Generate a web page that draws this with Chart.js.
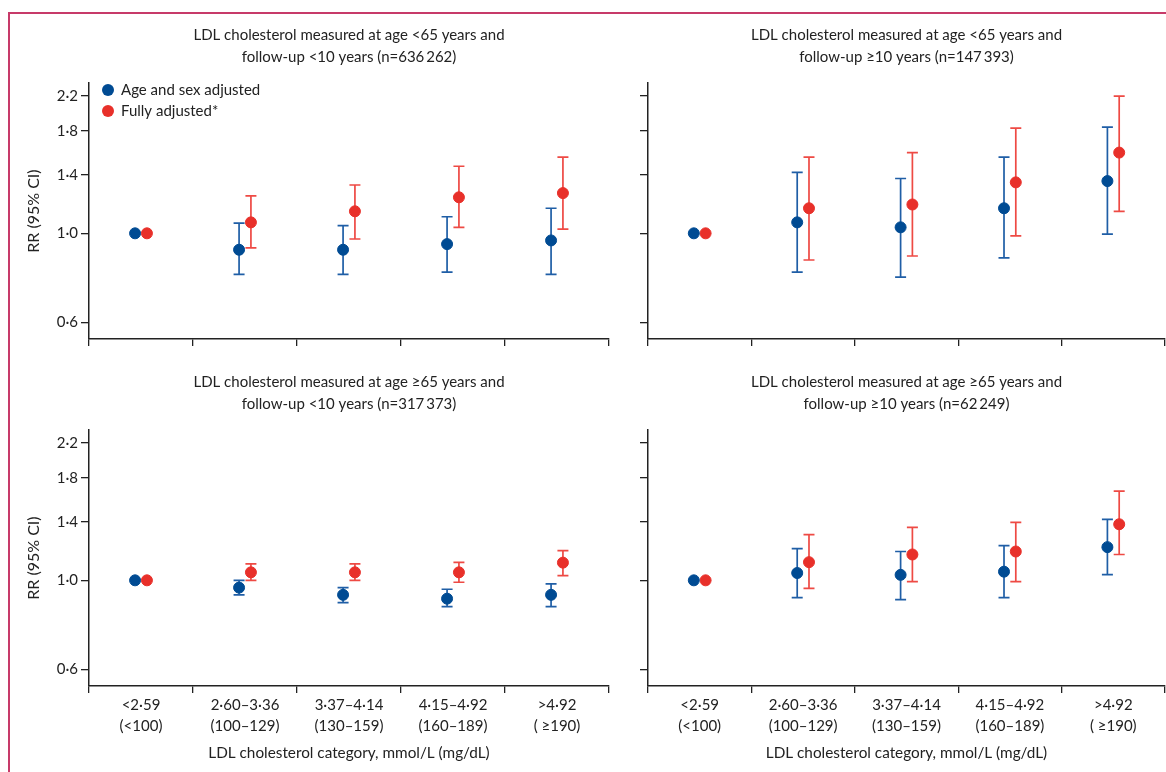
<!DOCTYPE html>
<html>
<head>
<meta charset="utf-8">
<script src="https://cdn.jsdelivr.net/npm/chart.js@4.4.1/dist/chart.umd.min.js"></script>
<style>
  body { margin: 0; width: 1166px; height: 772px; overflow: hidden; background: #fff; position: relative; }
  .frame { position: absolute; left: 8px; top: 12px; width: 1170px; height: 770px; border-left: 2px solid #c73a69; border-top: 2px solid #c73a69; }
  canvas { position: absolute; }
</style>
</head>
<body>
<div class="frame"></div>
<canvas id="tl" width="620" height="330" style="left:10px;top:24px"></canvas>
<canvas id="tr" width="545" height="330" style="left:628px;top:24px"></canvas>
<canvas id="bl" width="620" height="401" style="left:10px;top:371px"></canvas>
<canvas id="br" width="545" height="401" style="left:628px;top:371px"></canvas>
<script>
var categories = [['<2·59', '(<100)'], ['2·60–3·36', '(100–129)'], ['3·37–4·14', '(130–159)'], ['4·15–4·92', '(160–189)'], ['>4·92', '( ≥190)']];
var yTicks = [0.6, 1.0, 1.4, 1.8, 2.2];
var seriesNames = ['Age and sex adjusted', 'Fully adjusted*'];

// age <65, follow-up <10 years
var tlBase = [1.00, 0.91, 0.91, 0.94, 0.96];
var tlBaseLo = [null, 0.79, 0.79, 0.80, 0.79];
var tlBaseHi = [null, 1.06, 1.045, 1.10, 1.155];
var tlFull = [1.00, 1.065, 1.135, 1.23, 1.26];
var tlFullLo = [null, 0.92, 0.968, 1.035, 1.025];
var tlFullHi = [null, 1.24, 1.32, 1.47, 1.55];

// age <65, follow-up >=10 years
var trBase = [1.00, 1.065, 1.035, 1.155, 1.35];
var trBaseLo = [null, 0.80, 0.778, 0.868, 0.996];
var trBaseHi = [null, 1.42, 1.37, 1.55, 1.84];
var trFull = [1.00, 1.155, 1.18, 1.34, 1.59];
var trFullLo = [null, 0.858, 0.878, 0.985, 1.135];
var trFullHi = [null, 1.55, 1.59, 1.83, 2.20];

// age >=65, follow-up <10 years
var blBase = [1.00, 0.959, 0.92, 0.90, 0.92];
var blBaseLo = [null, 0.92, 0.88, 0.86, 0.86];
var blBaseHi = [null, 1.00, 0.959, 0.95, 0.98];
var blFull = [1.00, 1.047, 1.047, 1.047, 1.107];
var blFullLo = [null, 1.00, 1.00, 0.989, 1.027];
var blFullHi = [null, 1.099, 1.099, 1.109, 1.186];

// age >=65, follow-up >=10 years
var brBase = [1.00, 1.043, 1.032, 1.051, 1.21];
var brBaseLo = [null, 0.905, 0.895, 0.905, 1.033];
var brBaseHi = [null, 1.20, 1.18, 1.22, 1.42];
var brFull = [1.00, 1.11, 1.16, 1.18, 1.38];
var brFullLo = [null, 0.955, 0.993, 0.993, 1.16];
var brFullHi = [null, 1.30, 1.356, 1.395, 1.67];

Chart.defaults.font.family = "Lato, 'Open Sans', sans-serif";
Chart.defaults.font.size = 14;
Chart.defaults.color = '#222';

var blue = '#004b93', blueBar = '#1f5ea6';
var red = '#e8302a', redBar = '#ee4a44';
var shift = 0.057;

// whiskers drawn from each point's own pixel x and the y scale
var errorBars = {
    id: 'errorBars',
    beforeDatasetsDraw: function(chart) {
        var ctx = chart.ctx, y = chart.scales.y;
        chart.data.datasets.forEach(function(ds, di) {
            chart.getDatasetMeta(di).data.forEach(function(pt, i) {
                if (ds.lo[i] == null) return;
                var yl = y.getPixelForValue(ds.lo[i]);
                var yh = y.getPixelForValue(ds.hi[i]);
                ctx.save();
                ctx.strokeStyle = ds.barColor;
                ctx.lineWidth = 1.7;
                ctx.beginPath();
                ctx.moveTo(pt.x, yl); ctx.lineTo(pt.x, yh);
                ctx.moveTo(pt.x - 5.5, yl); ctx.lineTo(pt.x + 5.5, yl);
                ctx.moveTo(pt.x - 5.5, yh); ctx.lineTo(pt.x + 5.5, yh);
                ctx.stroke();
                ctx.restore();
            });
        });
    }
};

// legend sitting in the top-left corner of the plot area
var insideLegend = {
    id: 'insideLegend',
    afterDraw: function(chart, args, opts) {
        if (!opts.show) return;
        var ctx = chart.ctx, a = chart.chartArea;
        chart.data.datasets.forEach(function(ds, i) {
            var y = a.top + 7 + i * 21;
            ctx.save();
            ctx.fillStyle = ds.backgroundColor;
            ctx.beginPath();
            ctx.arc(a.left + 19, y, 6, 0, Math.PI * 2);
            ctx.fill();
            ctx.fillStyle = '#222';
            ctx.font = "15px Lato, 'Open Sans', sans-serif";
            ctx.textBaseline = 'middle';
            ctx.fillText(ds.label, a.left + 32, y);
            ctx.restore();
        });
    }
};

function pts(vals, dx) {
    return vals.map(function(v, i) { return {x: i + dx, y: v}; });
}

function makePanel(id, title, base, baseLo, baseHi, full, fullLo, fullHi, o) {
    var ctx = document.getElementById(id).getContext('2d');
    return new Chart(ctx, {
        type: 'scatter',
        data: {
            datasets: [{
                label: seriesNames[0],
                data: pts(base, -shift),
                lo: baseLo, hi: baseHi, barColor: blueBar,
                backgroundColor: blue, borderColor: blue,
                pointRadius: 5.5, pointHoverRadius: 5.5,
                xAxisID: 'xPos'
            }, {
                label: seriesNames[1],
                data: pts(full, shift),
                lo: fullLo, hi: fullHi, barColor: redBar,
                backgroundColor: red, borderColor: red,
                pointRadius: 5.5, pointHoverRadius: 5.5,
                xAxisID: 'xPos'
            }]
        },
        options: {
            responsive: false,
            animation: false,
            layout: { padding: { left: 0, right: o.padRight, top: 0, bottom: 0 } },
            plugins: {
                tooltip: { enabled: false },
                legend: { display: false },
                insideLegend: { show: !!o.legend },
                title: {
                    display: true,
                    text: title,
                    fullSize: false,
                    font: { size: 15, weight: 'normal', lineHeight: 1.47 },
                    color: '#222',
                    padding: { top: 0, bottom: 15 }
                }
            },
            scales: {
                xPos: {
                    type: 'linear',
                    display: false,
                    min: -0.5,
                    max: 4.5
                },
                x: {
                    type: 'category',
                    labels: categories,
                    offset: true,
                    position: 'bottom',
                    grid: { offset: true, drawOnChartArea: false, tickLength: 7, color: '#222', lineWidth: 1.3 },
                    border: { color: '#222', width: 1.5 },
                    ticks: { display: o.xLabels, padding: 2, maxRotation: 0, autoSkip: false, font: { size: 15, lineHeight: 1.4 } },
                    title: {
                        display: o.xLabels,
                        text: 'LDL cholesterol category, mmol/L (mg/dL)',
                        font: { size: 15.3 },
                        padding: { top: 4, bottom: 10 }
                    },
                    afterFit: function(scale) { scale.height = o.xHeight; }
                },
                y: {
                    type: 'logarithmic',
                    min: 0.545,
                    max: 2.37,
                    afterBuildTicks: function(scale) {
                        scale.ticks = yTicks.map(function(v) { return {value: v}; });
                    },
                    grid: { drawOnChartArea: false, tickLength: 8, color: '#222', lineWidth: 1.3 },
                    border: { color: '#222', width: 1.5 },
                    ticks: {
                        display: o.yLabels,
                        padding: 3,
                        font: { size: 15 },
                        callback: function(v) { return v.toFixed(1).replace('.', '·'); }
                    },
                    title: {
                        display: o.yLabels,
                        text: 'RR (95% CI)',
                        font: { size: 16 },
                        padding: { top: 14, bottom: 0 }
                    },
                    afterFit: function(scale) { scale.width = o.yWidth; }
                }
            }
        },
        plugins: [errorBars, insideLegend]
    });
}

makePanel('tl', ['LDL cholesterol measured at age <65 years and', 'follow-up <10 years (n=636\u2009262)'],
    tlBase, tlBaseLo, tlBaseHi, tlFull, tlFullLo, tlFullHi,
    { legend: true, xLabels: false, yLabels: true, xHeight: 15, yWidth: 79, padRight: 21 });
makePanel('tr', ['LDL cholesterol measured at age <65 years and', 'follow-up ≥10 years (n=147\u2009393)'],
    trBase, trBaseLo, trBaseHi, trFull, trFullLo, trFullHi,
    { legend: false, xLabels: false, yLabels: false, xHeight: 15, yWidth: 20, padRight: 8 });
makePanel('bl', ['LDL cholesterol measured at age ≥65 years and', 'follow-up <10 years (n=317\u2009373)'],
    blBase, blBaseLo, blBaseHi, blFull, blFullLo, blFullHi,
    { legend: false, xLabels: true, yLabels: true, xHeight: 86, yWidth: 79, padRight: 21 });
makePanel('br', ['LDL cholesterol measured at age ≥65 years and', 'follow-up ≥10 years (n=62\u2009249)'],
    brBase, brBaseLo, brBaseHi, brFull, brFullLo, brFullHi,
    { legend: false, xLabels: true, yLabels: false, xHeight: 86, yWidth: 20, padRight: 8 });
</script>
</body>
</html>
